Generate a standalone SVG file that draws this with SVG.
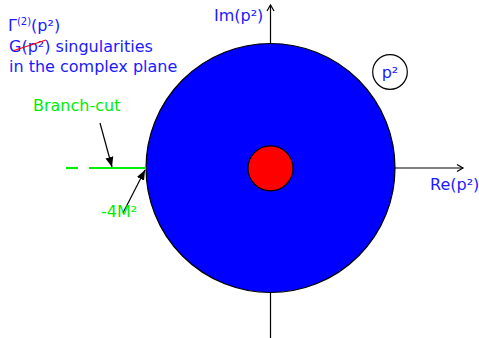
<svg xmlns="http://www.w3.org/2000/svg" width="479" height="338" viewBox="0 0 479 338">
<defs>
<style>
text{font-family:"DejaVu Sans","Noto Sans",sans-serif;font-size:16px}
.blue{fill:#1a1aff}
.green{fill:#00ee00}
.ax{stroke:#000;stroke-width:1.2;fill:none}
</style>
<marker id="open" markerWidth="10" markerHeight="10" refX="8" refY="5" orient="auto" markerUnits="userSpaceOnUse">
<path d="M2,1.5 L8,5 L2,8.5" fill="none" stroke="#000" stroke-width="1.2"/>
</marker>
<marker id="fill" markerWidth="12" markerHeight="12" refX="10" refY="5" orient="auto" markerUnits="userSpaceOnUse">
<path d="M0,1 L10,5 L0,9 Z" fill="#000"/>
</marker>
</defs>
<rect width="479" height="338" fill="#fff"/>
<g id="disk">
<circle cx="270.5" cy="168" r="124.5" fill="#0000ff" stroke="#000" stroke-width="1.2"/>
</g>
<g id="connectors">
<line class="ax" x1="270.5" y1="338" x2="270.5" y2="293"/>
<line class="ax" x1="270.5" y1="43.5" x2="270.5" y2="5" marker-end="url(#open)"/>
<line class="ax" x1="395" y1="168" x2="463" y2="168" marker-end="url(#open)"/>
<line x1="66" y1="168" x2="78" y2="168" stroke="#00ee00" stroke-width="2.2"/>
<line x1="89" y1="168" x2="146" y2="168" stroke="#00ee00" stroke-width="2.2"/>
<line x1="100" y1="123" x2="112" y2="167" stroke="#000" stroke-width="1.2" marker-end="url(#fill)"/>
<line x1="123" y1="213" x2="145" y2="170" stroke="#000" stroke-width="1.2" marker-end="url(#fill)"/>
</g>
<g id="pole">
<circle cx="270.5" cy="168.3" r="22.5" fill="#ff0000" stroke="#000" stroke-width="1.2"/>
</g>
<g id="p2">
<circle cx="390" cy="72" r="17.3" fill="#fff" stroke="#000" stroke-width="1.2"/>
<text x="390" y="78" text-anchor="middle" class="blue">p²</text>
</g>
<g id="title">
<text x="8" y="31" class="blue">Γ<tspan font-size="10" dy="-6">(2)</tspan><tspan dy="6">(p²)</tspan></text>
<text x="9" y="52" class="blue">G(p²) singularities</text>
<text x="9" y="72" class="blue">in the complex plane</text>
<line x1="14" y1="50.5" x2="46" y2="40" stroke="#ff0000" stroke-width="1.3"/>
</g>
<g id="im-label"><text x="214" y="21" class="blue">Im(p²)</text></g>
<g id="re-label"><text x="430" y="190" class="blue">Re(p²)</text></g>
<g id="branch-label"><text x="33" y="111" class="green">Branch-cut</text></g>
<g id="m-label"><text x="101" y="217" class="green">-4M²</text></g>
</svg>
